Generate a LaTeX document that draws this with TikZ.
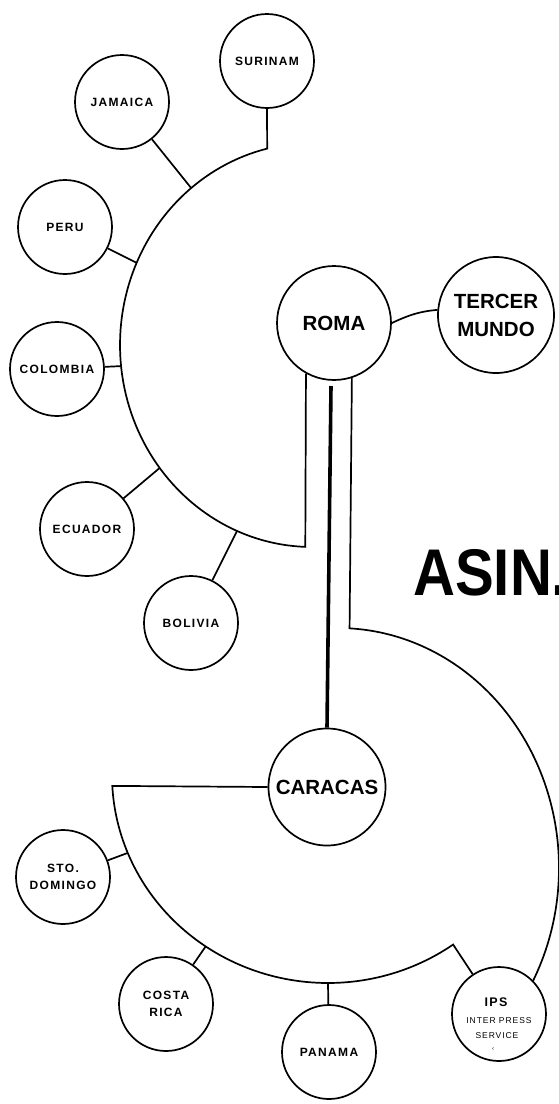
\documentclass[tikz,border=0pt]{standalone}
\usepackage{fontspec}
\setmainfont{Liberation Sans}
\newfontfamily\labfont[LetterSpace=11]{Liberation Sans}
\newfontfamily\bigfont{Liberation Sans}
\begin{document}
\begin{tikzpicture}[x=1pt,y=-1pt,
  conn/.style={line width=1.7pt,line join=miter},
  heavy/.style={line width=3.6pt},
  sc/.style={circle,draw,line width=1.7pt,minimum size=94pt,inner sep=0pt,align=center,
    font=\labfont\bfseries\fontsize{12}{16.5}\selectfont},
  bc/.style={circle,draw,line width=1.7pt,minimum size=114pt,inner sep=0pt,align=center,
    font=\bigfont\bfseries\fontsize{20.5}{28}\selectfont},
  tx/.style={inner sep=0pt,font=\labfont\fontsize{8.5}{10}\selectfont}]
\fill[white] (0,0) rectangle (559,1104);
\useasboundingbox (0,0) rectangle (559,1104);

% upper group
\node[sc] (surinam) at (267,61) {SURINAM};
\node[sc] (jamaica) at (122,102) {JAMAICA};
\node[sc] (peru) at (65,227) {PERU};
\node[sc] (colombia) at (57,369) {COLOMBIA};
\node[sc] (ecuador) at (87,529) {ECUADOR};
\node[sc] (bolivia) at (191,623) {BOLIVIA};
\node[bc] (roma) at (334,323) {ROMA};
\node[bc,minimum size=116pt] (tercer) at (496,315) {TERCER\\MUNDO};

% lower group
\node[bc,minimum size=117pt] (caracas) at (327,787) {CARACAS};
\node[sc,font=\labfont\bfseries\fontsize{12}{17}\selectfont] (sto) at (63,877) {STO.\\DOMINGO};
\node[sc] (costa) at (166,1004) {COSTA\\RICA};
\node[sc] (panama) at (329,1052) {PANAMA};
\node[sc] (ips) at (499,1014) {};
\node[tx,font=\labfont\bfseries\fontsize{12.5}{14}\selectfont] (ipsa) at (496,1002) {IPS};
\node[tx] (ipsb) at (499,1021) {INTER PRESS};
\node[tx] (ipsc) at (497,1036) {SERVICE};
\node[tx,font=\labfont\fontsize{6}{7}\selectfont] (ipsd) at (493,1049) {‹};

% title fragment (cut by the right edge, as in the reference)
\node[anchor=base west,inner sep=0pt,font=\bigfont\bfseries\fontsize{66}{66}\selectfont] (asin) at (413,595) {\scalebox{0.88}[1]{ASIN.}};

% upper arc junctions
\coordinate (jjam) at ({312+192*cos(231)},{345+202*sin(231)});
\coordinate (jper) at ({312+192*cos(204)},{345+202*sin(204)});
\coordinate (jcol) at ({312+192*cos(174)},{345+202*sin(174)});
\coordinate (jecu) at ({312+192*cos(142.5)},{345+202*sin(142.5)});
\coordinate (jbol) at ({312+192*cos(113)},{345+202*sin(113)});

\draw[conn] (surinam.south) -- plot[domain=256.5:92,samples=90] ({312+192*cos(\x)},{345+202*sin(\x)}) -- (roma.-119);
\draw[conn] (jjam) -- (jamaica);
\draw[conn] (jper) -- (peru);
\draw[conn] (jcol) -- (colombia);
\draw[conn] (jecu) -- (ecuador);
\draw[conn] (jbol) -- (bolivia);

\draw[conn] (roma.0) to[out=25,in=185] (tercer.175);

% Roma - Caracas
\coordinate (mtop) at (331,386);
\draw[heavy] (mtop) -- (caracas.north);

% right long arc to IPS
\draw[conn] (roma.-72) -- plot[domain=-87:28,samples=90] ({338+221*cos(\x)},{868+240*sin(\x)});

% lower arc junctions
\coordinate (jsto) at ({328+216*cos(158)},{775+208*sin(158)});
\coordinate (jcos) at ({328+216*cos(124.5)},{775+208*sin(124.5)});
\coordinate (jpan) at ({328+216*cos(90)},{775+208*sin(90)});

\draw[conn] (caracas.west) -- plot[domain=177:54.6,samples=90] ({328+216*cos(\x)},{775+208*sin(\x)}) -- (ips);
\draw[conn] (jsto) -- (sto);
\draw[conn] (jcos) -- (costa);
\draw[conn] (jpan) -- (panama);
\end{tikzpicture}
\end{document}
